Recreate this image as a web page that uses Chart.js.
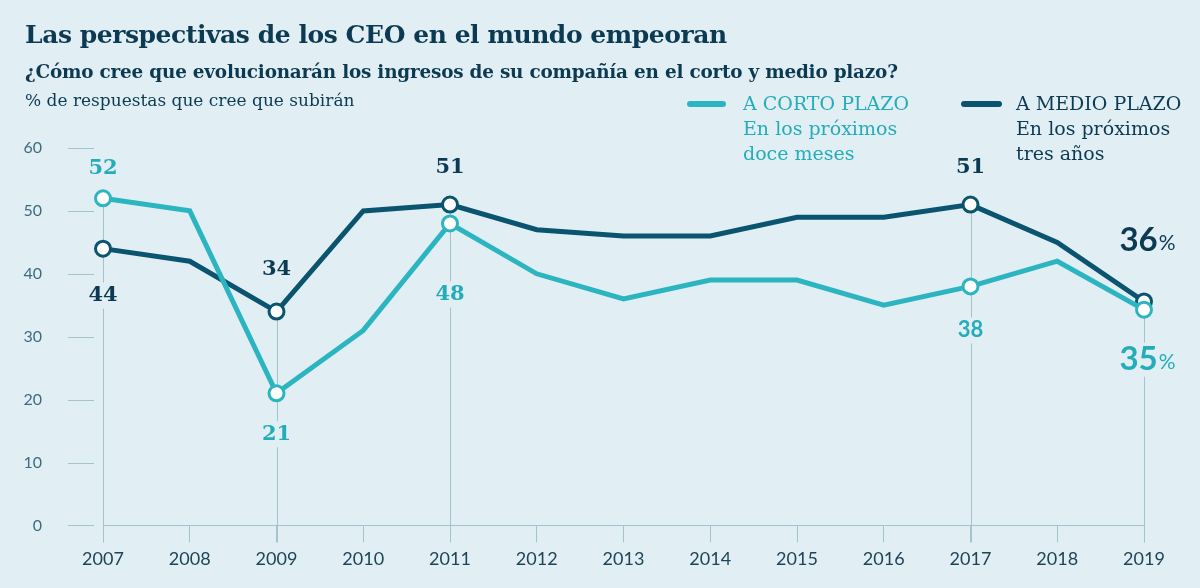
<!DOCTYPE html>
<html>
<head>
<meta charset="utf-8">
<script src="https://cdn.jsdelivr.net/npm/chart.js@4.4.1/dist/chart.umd.min.js"></script>
<style>
  html, body { margin: 0; padding: 0; background: #e1eff4; }
  #wrap { position: relative; width: 1200px; height: 588px; overflow: hidden; background: #e1eff4; }
  canvas { position: absolute; left: 0; top: 0; }
  .t { position: absolute; white-space: nowrap; font-family: "DejaVu Serif", serif; }
  #title { left: 25px; top: 20px; font-size: 25px; font-weight: bold; color: #0c3a52; letter-spacing: -0.45px; }
  #sub { left: 25px; top: 61px; font-size: 18.4px; font-weight: bold; color: #0c3a52; letter-spacing: -0.2px; }
  #unit { left: 25px; top: 90px; font-size: 17px; color: #0c3a52; }
  .leg { position: absolute; font-family: "DejaVu Serif", serif; font-size: 19px; line-height: 25px; font-weight: 300; }
  .sw { position: absolute; height: 6px; border-radius: 3px; }
</style>
</head>
<body>
<div id="wrap">
  <canvas id="c" width="1200" height="588"></canvas>
  <div class="t" id="title">Las perspectivas de los CEO en el mundo empeoran</div>
  <div class="t" id="sub">¿Cómo cree que evolucionarán los ingresos de su compañía en el corto y medio plazo?</div>
  <div class="t" id="unit">% de respuestas que cree que subirán</div>
  <div class="sw" style="left:687px; top:101px; width:39px; background:#2cb5c1;"></div>
  <div class="leg" style="left:743px; top:91px; color:#25acb9;">A CORTO PLAZO<br>En los próximos<br>doce meses</div>
  <div class="sw" style="left:961px; top:101px; width:41px; background:#0b5470;"></div>
  <div class="leg" style="left:1016px; top:91px; color:#0c3a52;">A MEDIO PLAZO<br>En los próximos<br>tres años</div>
</div>
<script>
const years = ['2007','2008','2009','2010','2011','2012','2013','2014','2015','2016','2017','2018','2019'];
const cortoPlazo = [52, 50, 21, 31, 48, 40, 36, 39, 39, 35, 38, 42, 34.3];
const medioPlazo = [44, 42, 34, 50, 51, 47, 46, 46, 49, 49, 51, 45, 35.6];
const yTicks = [0, 10, 20, 30, 40, 50, 60];
const highlighted = [0, 2, 4, 10, 12];
const cortoLabels = ['52', '', '21', '', '48', '', '', '', '', '', '38', '', '35'];
const medioLabels = ['44', '', '34', '', '51', '', '', '', '', '', '51', '', '36'];

const BG = '#e1eff4';
const TEAL = '#2cb5c1';
const TEAL_TXT = '#25acb9';
const DARK = '#0b5470';
const DARK_TXT = '#0c3a52';
const GRIDC = '#a4c3cf';

// label style: [dx, dy, fontKind]  serif | sans | big
const cortoLabelStyle = {0:[0,-30,'serif'], 2:[0,41,'serif'], 4:[0,71,'serif'], 10:[0,44,'sans'], 12:[3,50,'big']};
const medioLabelStyle = {0:[0,47,'serif'], 2:[0,-42,'serif'], 4:[0,-37,'serif'], 10:[0,-37,'serif'], 12:[3,-61,'big']};

const pointR = (ctx) => highlighted.includes(ctx.dataIndex) ? 7.5 : 0;

const decor = {
  id: 'decor',
  beforeDatasetsDraw(chart) {
    const {ctx, scales: {x, y}} = chart;
    ctx.save();
    ctx.strokeStyle = GRIDC;
    ctx.lineWidth = 1;
    yTicks.forEach(v => {
      const py = Math.round(y.getPixelForValue(v)) + 0.5;
      ctx.beginPath(); ctx.moveTo(68, py); ctx.lineTo(94, py); ctx.stroke();
    });
    highlighted.forEach(i => {
      const px = Math.round(x.getPixelForValue(i)) + 0.5;
      const top = y.getPixelForValue(Math.max(cortoPlazo[i], medioPlazo[i]));
      ctx.beginPath(); ctx.moveTo(px, top); ctx.lineTo(px, y.bottom + 17); ctx.stroke();
    });
    ctx.restore();
  },
  afterDatasetsDraw(chart) {
    const {ctx, scales: {x, y}} = chart;
    const draw = (vals, labels, styles, color) => {
      Object.keys(styles).forEach(k => {
        const i = +k;
        const [dx, dy, kind] = styles[k];
        const px = x.getPixelForValue(i) + dx;
        const py = y.getPixelForValue(vals[i]) + dy;
        ctx.save();
        ctx.textBaseline = 'middle';
        if (kind === 'big') {
          ctx.font = 'bold 33px Lato, sans-serif';
          const w1 = ctx.measureText(labels[i]).width;
          ctx.font = '21px Lato, sans-serif';
          const w2 = ctx.measureText('%').width;
          const left = px - (w1 + w2) / 2;
          ctx.fillStyle = BG;
          ctx.fillRect(left - 3, py - 17, w1 + w2 + 6, 34);
          ctx.fillStyle = color;
          ctx.textAlign = 'left';
          ctx.font = 'bold 33px Lato, sans-serif';
          ctx.fillText(labels[i], left, py);
          ctx.font = '21px Lato, sans-serif';
          ctx.fillText('%', left + w1 + 1, py + 3);
        } else {
          ctx.font = kind === 'sans' ? 'bold 22px Lato, sans-serif' : 'bold 21px "DejaVu Serif", serif';
          const w = ctx.measureText(labels[i]).width;
          ctx.fillStyle = BG;
          ctx.fillRect(px - w / 2 - 3, py - 13, w + 6, 26);
          ctx.fillStyle = color;
          ctx.textAlign = 'center';
          ctx.fillText(labels[i], px, py);
        }
        ctx.restore();
      });
    };
    draw(cortoPlazo, cortoLabels, cortoLabelStyle, TEAL_TXT);
    draw(medioPlazo, medioLabels, medioLabelStyle, DARK_TXT);
  }
};

new Chart(document.getElementById('c'), {
  type: 'line',
  data: {
    labels: years,
    datasets: [
      {
        label: 'A MEDIO PLAZO', data: medioPlazo,
        borderColor: DARK, borderWidth: 5, borderJoinStyle: 'miter',
        pointRadius: pointR, pointBackgroundColor: '#ffffff',
        pointBorderColor: DARK, pointBorderWidth: 3, pointHoverRadius: pointR,
        tension: 0, order: 2
      },
      {
        label: 'A CORTO PLAZO', data: cortoPlazo,
        borderColor: TEAL, borderWidth: 5, borderJoinStyle: 'miter',
        pointRadius: pointR, pointBackgroundColor: '#ffffff',
        pointBorderColor: TEAL, pointBorderWidth: 3, pointHoverRadius: pointR,
        tension: 0, order: 1
      }
    ]
  },
  options: {
    responsive: false,
    animation: false,
    events: [],
    layout: { padding: { top: 148, right: 56, bottom: 10, left: 0 } },
    plugins: { legend: { display: false }, tooltip: { enabled: false } },
    scales: {
      x: {
        type: 'category',
        offset: false,
        grid: { display: true, drawOnChartArea: false, drawTicks: true, tickLength: 17, color: GRIDC, lineWidth: 1 },
        border: { display: true, color: GRIDC, width: 1 },
        ticks: { color: '#1e4456', padding: 6, font: { family: 'Lato, sans-serif', size: 18 }, maxRotation: 0, autoSkip: false }
      },
      y: {
        min: 0, max: 60,
        afterFit: (s) => { s.width = 103; },
        afterBuildTicks: (s) => { s.ticks = yTicks.map(v => ({ value: v })); },
        grid: { display: false },
        border: { display: false },
        ticks: { color: '#3d6b7e', padding: 53, font: { family: 'Lato, sans-serif', size: 16 } }
      }
    }
  },
  plugins: [decor]
});
</script>
</body>
</html>
